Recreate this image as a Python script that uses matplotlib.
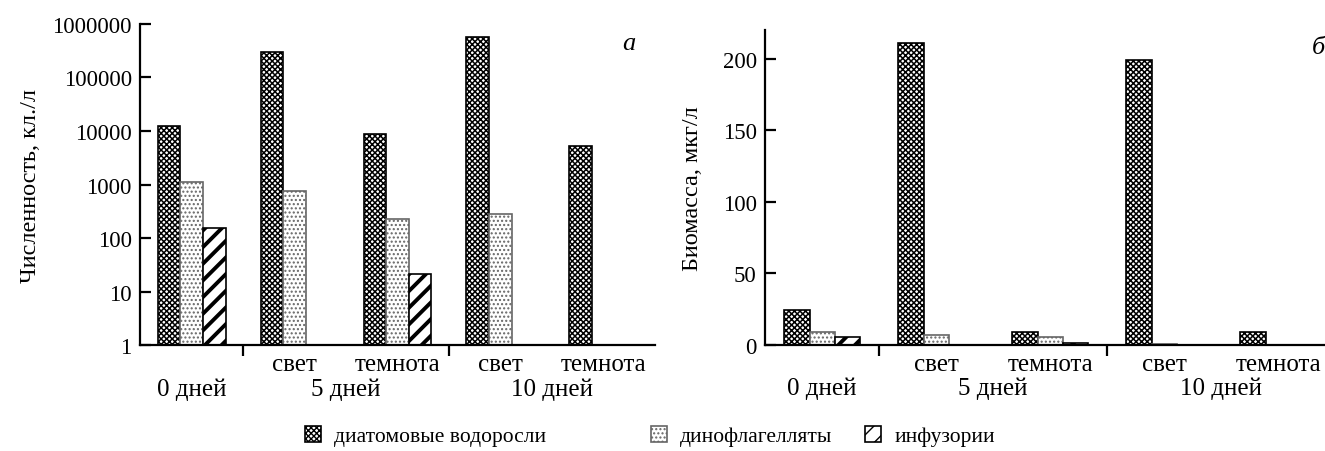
import numpy as np
import matplotlib
matplotlib.use('Agg')
import matplotlib.pyplot as plt

plt.rcParams['font.family'] = ['Liberation Serif', 'DejaVu Serif']
plt.rcParams['font.size'] = 16.5

# категории: 0 дней, 5 дней свет, 5 дней темнота, 10 дней свет, 10 дней темнота
sub_labels = ['', 'свет', 'темнота', 'свет', 'темнота']
group_labels = ['0 дней', '5 дней', '10 дней']
group_pos = [0, 1.5, 3.5]
series = ['диатомовые водоросли', 'динофлагелляты', 'инфузории']

# численность, кл./л (0 = нет)
count_diatom = [12300, 300000, 8800, 570000, 5200]
count_dino = [1100, 750, 230, 280, 0]
count_cil = [150, 0, 20, 0, 0]

# биомасса, мкг/л
bio_diatom = [24.5, 211, 9, 199, 9]
bio_dino = [9, 7, 5.5, 1, 0]
bio_cil = [5.5, 0, 1.5, 0, 0]

styles = [
    dict(hatch='xxxxxx', edgecolor='black', hlw=1.1),
    dict(hatch='....', edgecolor='#666666', hlw=1.0),
    dict(hatch='//', edgecolor='black', hlw=2.8),
]

fig = plt.figure(figsize=(13.25, 4.52), dpi=100)
ax1 = fig.add_axes([0.1057, 0.2345, 0.3886, 0.7102])
ax2 = fig.add_axes([0.5774, 0.2345, 0.4216, 0.6969])
ax1.set_yscale('log')

x = np.arange(5)
w = 0.22


def draw(ax, data, log):
    conts = []
    for i, (vals, st) in enumerate(zip(data, styles)):
        vals = np.array(vals, dtype=float)
        mask = vals > 0
        with plt.rc_context({'hatch.linewidth': st['hlw']}):
            c = ax.bar(x[mask] + (i - 1) * w, vals[mask], w,
                       bottom=1 if log else 0,
                       facecolor='white', edgecolor=st['edgecolor'],
                       hatch=st['hatch'], linewidth=1.2)
        conts.append(c)
    for s in ['top', 'right']:
        ax.spines[s].set_visible(False)
    for s in ['left', 'bottom']:
        ax.spines[s].set_linewidth(1.6)
    for xi, lab in zip(x, sub_labels):
        ax.text(xi, -0.06, lab, transform=ax.get_xaxis_transform(),
                ha='center', va='center', fontsize=18)
    for xi, lab in zip(group_pos, group_labels):
        ax.text(xi, -0.137, lab, transform=ax.get_xaxis_transform(),
                ha='center', va='center', fontsize=18)
    return conts


conts = draw(ax1, [count_diatom, count_dino, count_cil], log=True)
ax1.set_ylim(1, 1e6)
yt = [1, 10, 100, 1000, 10000, 100000, 1000000]
ax1.set_yticks(yt)
ax1.set_yticklabels([str(v) for v in yt])
ax1.yaxis.set_minor_locator(matplotlib.ticker.NullLocator())
ax1.set_xlim(-0.5, 4.5)
ax1.set_ylabel('Численность, кл./л', fontsize=17.5, labelpad=8)
ax1.text(4.25, 0.94, 'а', transform=ax1.get_xaxis_transform(),
         fontsize=19, style='italic', ha='center', va='center')

draw(ax2, [bio_diatom, bio_dino, bio_cil], log=False)
ax2.set_ylim(0, 220)
ax2.set_yticks([0, 50, 100, 150, 200])
ax2.set_xlim(-0.5, 4.4)
ax2.set_ylabel('Биомасса, мкг/л', fontsize=17.5, labelpad=14)
ax2.text(4.35, 0.945, 'б', transform=ax2.get_xaxis_transform(),
         fontsize=19, style='italic', ha='center', va='center')

for ax in (ax1, ax2):
    ax.set_xticks([])
    ax.set_xticks([0.5, 2.5], minor=True)
    ax.tick_params(axis='x', which='minor', direction='out', length=8,
                   width=1.6, labelbottom=False)
    ax.tick_params(axis='y', which='major', direction='in', length=8,
                   width=1.6, pad=6)

# легенда: каждый элемент отдельно, как в оригинале
leg_x = [0.23, 0.4915, 0.653]
for c, name, lx in zip(conts, series, leg_x):
    fig.legend(handles=[c], labels=[name], loc='center left',
               bbox_to_anchor=(lx, 0.033), frameon=False, fontsize=15.5,
               handlelength=0.75, handleheight=0.75, handletextpad=0.6,
               borderpad=0, borderaxespad=0)

fig.savefig('out.png', dpi=100)
